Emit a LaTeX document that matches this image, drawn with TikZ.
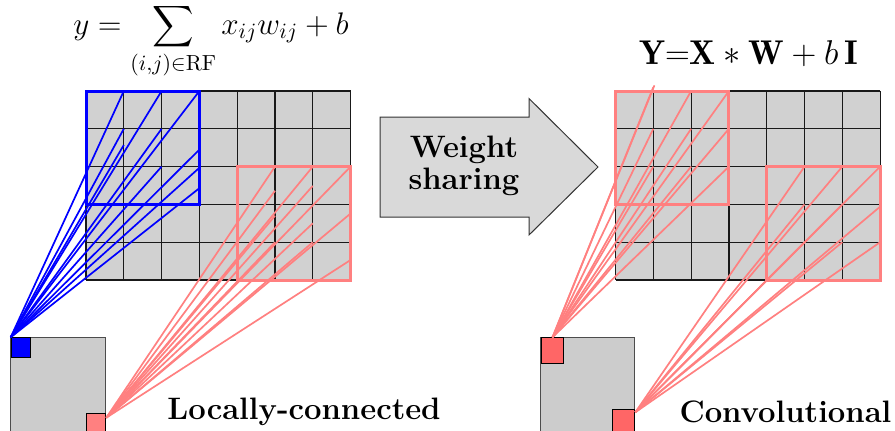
\RequirePackage{fix-cm}
\documentclass[tikz,border=0pt]{standalone}
\usepackage{amsmath}
\usepackage{fontspec}
\usetikzlibrary{calc}
\definecolor{cellgray}{RGB}{209,209,209}
\definecolor{biggray}{RGB}{204,204,204}
\definecolor{arrowgray}{RGB}{217,217,217}
\definecolor{pinkline}{RGB}{255,128,128}
\definecolor{pinksq}{RGB}{255,102,102}
\tikzset{
  gridline/.style={draw=black!90,line width=0.6pt},
  cellfill/.style={fill=cellgray},
  blueconn/.style={draw=blue,line width=0.85pt},
  pinkconn/.style={draw=pinkline,line width=0.85pt},
  bluerf/.style={draw=blue,line width=1.5pt},
  pinkrf/.style={draw=pinkline,line width=1.5pt},
  bigsq/.style={draw=black!70,fill=biggray,line width=0.5pt},
  unitsq/.style={draw=black,line width=0.5pt,inner sep=0pt,anchor=north west},
  arrowshape/.style={draw=black!80,fill=arrowgray,line width=0.5pt},
  bigtext/.style={font=\fontsize{15.5}{16}\selectfont\bfseries,inner sep=0pt},
  mathtext/.style={font=\fontsize{15.6}{18}\selectfont,inner sep=0pt},
  mathtextb/.style={font=\fontsize{17.2}{19}\selectfont,inner sep=0pt}
}
\begin{document}
\begin{tikzpicture}[x=0.5pt,y=-0.5pt]
\useasboundingbox (0,0) rectangle (895,430);
\clip (0,0) rectangle (895,430);

% grids
\foreach \ox in {86,615.5} {
  \fill[cellfill] (\ox,91) rectangle (\ox+264.6,280);
  \foreach \i in {0,...,7} \draw[gridline] (\ox+\i*37.8,91) -- (\ox+\i*37.8,280);
  \foreach \j in {0,...,5} \draw[gridline] (\ox,91+\j*37.8) -- (\ox+264.6,91+\j*37.8);
}

% big squares (output maps)
\draw[bigsq] (10.7,337.3) rectangle (105.3,445);
\draw[bigsq] (540.7,337.3) rectangle (634.3,445);

% unit squares
\node[unitsq,fill=blue,minimum width=9.65pt,minimum height=9.65pt] (uB) at (10.7,337.3) {};
\node[unitsq,fill=pinkline,minimum width=9.65pt,minimum height=14pt] (uP) at (86,412.7) {};
\node[unitsq,fill=pinksq,minimum width=11.3pt,minimum height=13pt] (uC) at (540.7,337.3) {};
\node[unitsq,fill=pinksq,minimum width=11.3pt,minimum height=14pt] (uD) at (611.7,409.3) {};

\coordinate (sB) at (uB.north west);
\coordinate (sP) at ($(uP.north east)+(0,5)$);
\coordinate (sC) at (uC.north);
\coordinate (sD) at ($(uD.north east)+(0,3)$);

% receptive-field corners
\coordinate (rB) at (86,91);
\coordinate (rP) at (237.2,166.6);
\coordinate (rC) at (615.5,91);
\coordinate (rD) at (766.7,166.6);

% connectors
\foreach \a/\b in {1/0,2/0,3/0,1/1,2/1,1/1.43,2/2,3/1.55,3/2.03,3/2.57}
  \draw[blueconn] (sB) -- ($(rB)+(\a*37.8,\b*37.8)$);
\foreach \a/\b in {1/0,2/0,3/0,1/0.64,2/0.51,3/1.24,3/2.47,1/2,2/1.5,1/1.3,2/2}
  \draw[pinkconn] (sP) -- ($(rP)+(\a*37.8,\b*37.8)$);
\foreach \a/\b in {1/-0.1,1.03/-0.15,2/0,3/0,1/1,2/1,3/1,1/2,2/2,3/2}
  \draw[pinkconn] (sC) -- ($(rC)+(\a*37.8,\b*37.8)$);
\foreach \a/\b in {1/0,2/0,3/0,1/1,2/1,3/1.06,1/2,2/2,3/2}
  \draw[pinkconn] (sD) -- ($(rD)+(\a*37.8,\b*37.8)$);

% receptive-field boxes
\draw[bluerf] (rB) rectangle ++(113.4,113.4);
\draw[pinkrf] (rP) rectangle ++(113.4,113.4);
\draw[pinkrf] (rC) rectangle ++(113.4,113.4);
\draw[pinkrf] (rD) rectangle ++(113.4,113.4);

% arrow
\draw[arrowshape] (380,117) -- (529,117) -- (529,98.5) -- (598,167) -- (529,235) -- (529,217) -- (380,217) -- cycle;
\node[bigtext,align=center] (ws) at (464,166) {Weight\\sharing};

% formulas
\node[mathtext] (f1) at (211,41) {$\displaystyle y=\sum_{(i,j)\in\mathrm{RF}} x_{ij}w_{ij}+b$};
\node[mathtextb,anchor=base] (f2) at (748.5,64) {$\mathbf{Y}{=}\mathbf{X}*\mathbf{W}+b\,\mathbf{I}$};

% captions
\node[bigtext,anchor=base] (lc) at (304,419) {Locally-connected};
\node[bigtext,anchor=base] (cv) at (785.5,422.5) {Convolutional};
\end{tikzpicture}
\end{document}
